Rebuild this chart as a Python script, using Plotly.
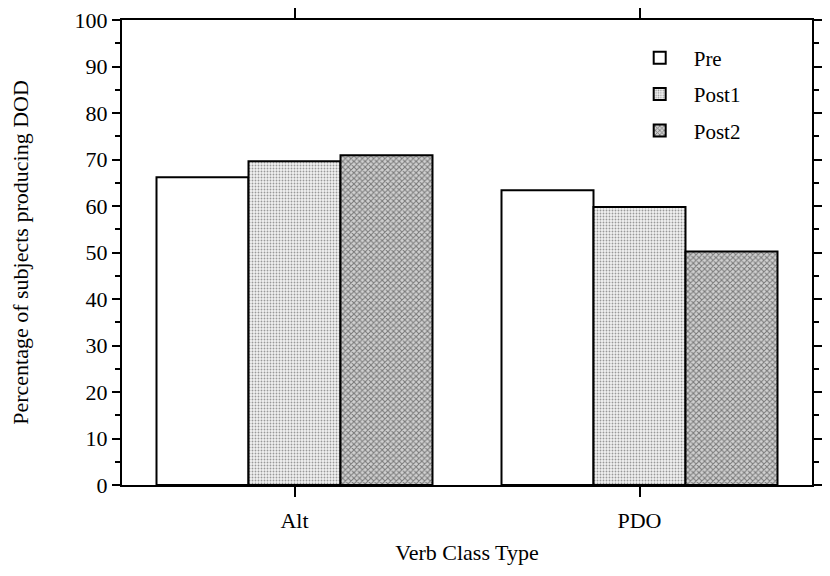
import plotly.graph_objects as go

categories = ["Alt", "PDO"]
series_names = ["Pre", "Post1", "Post2"]
pre_values = [66.2, 63.4]
post1_values = [69.6, 59.8]
post2_values = [70.9, 50.2]
y_ticks = [0, 10, 20, 30, 40, 50, 60, 70, 80, 90, 100]

FONT = "Liberation Serif"

styles = {
    "Pre": None,
    "Post1": dict(shape=".", fgcolor="#404040", bgcolor="#f2f2f2", size=3, solidity=0.3),
    "Post2": dict(shape="x", fgcolor="#202020", bgcolor="#d0d0d0", size=4, solidity=0.45),
}

fig = go.Figure()
for name, vals in zip(series_names, [pre_values, post1_values, post2_values]):
    marker = dict(color="white", line=dict(color="black", width=2))
    if styles[name]:
        marker["pattern"] = styles[name]
    fig.add_trace(go.Bar(x=categories, y=vals, name=name, marker=marker, legendgroup=name))

tick_font = dict(family=FONT, size=22, color="black")
title_font = dict(family=FONT, size=22, color="black")
fig.update_layout(
    width=830, height=576,
    margin=dict(l=122, r=8, t=15, b=91),
    paper_bgcolor="white", plot_bgcolor="white",
    barmode="group", bargap=0.2, bargroupgap=0,
    font=dict(family=FONT, size=22, color="black"),
    showlegend=True,
    legend=dict(x=0.73, y=0.962, xanchor="left", yanchor="top",
                font=dict(family=FONT, size=21, color="black"),
                bgcolor="rgba(0,0,0,0)", tracegroupgap=6, itemwidth=58),
    xaxis=dict(
        showline=True, linecolor="black", linewidth=2, mirror="ticks",
        ticks="outside", ticklen=10, tickwidth=2, tickcolor="black",
        tickfont=tick_font, showgrid=False, ticklabelstandoff=5,
        title=dict(text="Verb Class Type", font=title_font, standoff=12),
    ),
    yaxis=dict(
        range=[0, 100], tickvals=y_ticks, showline=True, linecolor="black", linewidth=2,
        mirror="ticks", ticks="outside", ticklen=8, tickwidth=2, tickcolor="black",
        tickfont=tick_font, showgrid=False, zeroline=False,
        minor=dict(dtick=5, ticks="outside", ticklen=5, tickwidth=2, tickcolor="black", showgrid=False),
        title=dict(text="Percentage of subjects producing DOD", font=title_font, standoff=40),
    ),
)

fig.write_html("out.html")
